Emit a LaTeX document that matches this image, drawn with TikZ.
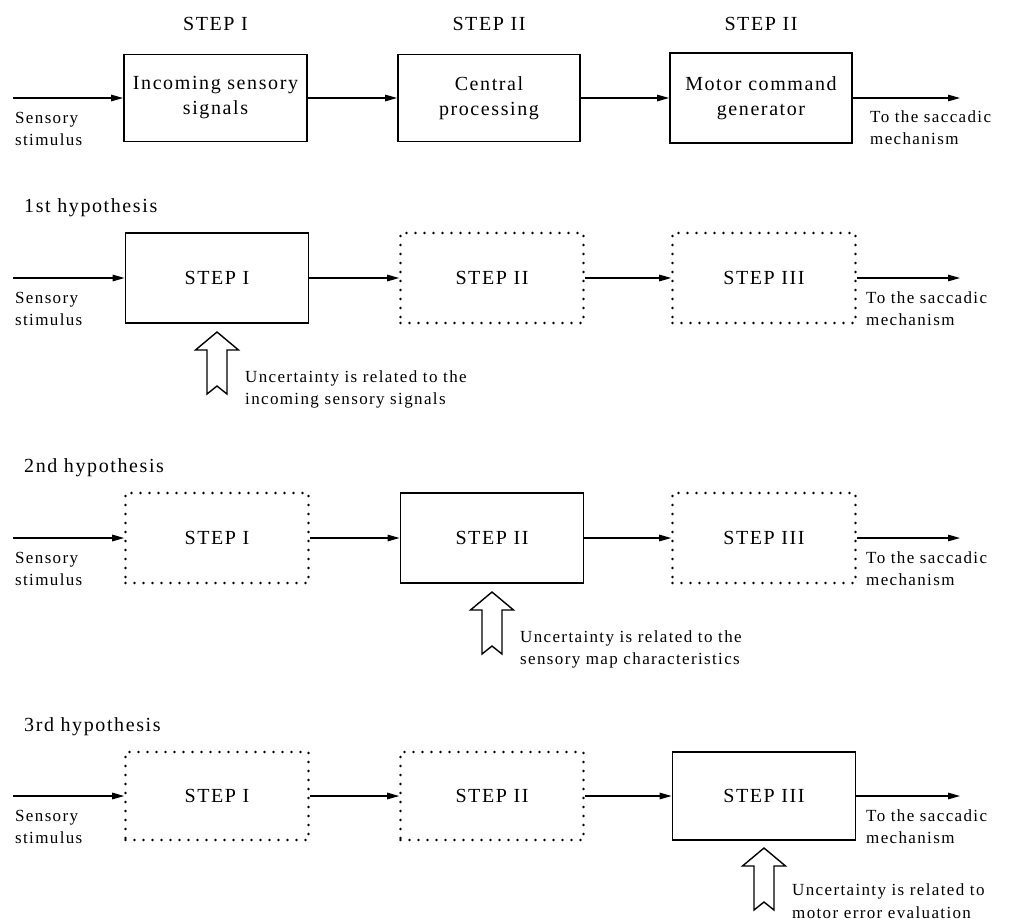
\documentclass[tikz,border=0pt]{standalone}
\usepackage{fontspec}
\setmainfont[LetterSpace=8]{Liberation Serif}
\usetikzlibrary{arrows.meta}
\begin{document}
\begin{tikzpicture}[x=1pt,y=-1pt,
  big/.style={font=\fontsize{20}{25}\selectfont},
  small/.style={font=\fontsize{17}{22.5}\selectfont},
  solidbox/.style={draw,line width=1.8pt,minimum width=183pt,minimum height=90pt,inner sep=0pt,big,align=center},
  dotbox/.style={solidbox,line width=2.6pt,line cap=round,dash pattern=on 0pt off 9pt},
  arr/.style={line width=1.3pt,-{Triangle[length=12pt,width=6.5pt]}},
  lab/.style={small,align=left,anchor=west,inner sep=0pt},
  hyp/.style={big,anchor=west,inner sep=0pt},
  hollow/.pic={\draw[line width=1.4pt,line join=miter] (0,0) -- (21.5,18) -- (10,18) -- (10,62) -- (0,54) -- (-10,62) -- (-10,18) -- (-21.5,18) -- cycle;}
]
\useasboundingbox[fill=white] (0,0) rectangle (1010,922);

% ---------- Row 1
\node[big] (h1) at (215.5,24) {STEP I};
\node[big] (h2) at (489,24) {STEP II};
\node[big] (h3) at (761,24) {STEP II};
\node[solidbox,minimum height=87pt] (a1) at (215.5,98) {Incoming sensory\\signals};
\node[solidbox,minimum height=87pt,minimum width=182pt] (a2) at (489,98) {Central\\processing};
\node[solidbox,minimum height=90pt,minimum width=182pt] (a3) at (761,98) {Motor command\\generator};
\coordinate (ain) at (13,98);
\coordinate (aout) at (960,98);
\draw[arr] (ain) -- (a1);
\draw[arr] (a1) -- (a2);
\draw[arr] (a2) -- (a3);
\draw[arr] (a3) -- (aout);
\node[lab] (asen) at (15,129) {Sensory\\stimulus};
\node[lab] (ato) at (870,127.5) {To the saccadic\\mechanism};

% ---------- Row 2
\node[hyp] (l2) at (24,208) {1st hypothesis};
\node[solidbox] (b1) at (217,278) {STEP I};
\node[dotbox] (b2) at (492,278) {STEP II};
\node[dotbox] (b3) at (764,278) {STEP III};
\coordinate (bin) at (13,278);
\coordinate (bout) at (960,278);
\draw[arr] (bin) -- (b1);
\draw[arr] (b1) -- (b2);
\draw[arr] (b2) -- (b3);
\draw[arr] (b3) -- (bout);
\node[lab] (bsen) at (15,309) {Sensory\\stimulus};
\node[lab] (bto) at (866,308.5) {To the saccadic\\mechanism};
\pic at (217,332) {hollow};
\node[lab] (bu) at (245,389.5) {Uncertainty is related to the\\incoming sensory signals};

% ---------- Row 3
\node[hyp] (l3) at (24,468) {2nd hypothesis};
\node[dotbox] (c1) at (217,538) {STEP I};
\node[solidbox] (c2) at (492,538) {STEP II};
\node[dotbox] (c3) at (764,538) {STEP III};
\coordinate (cin) at (13,538);
\coordinate (cout) at (960,538);
\draw[arr] (cin) -- (c1);
\draw[arr] (c1) -- (c2);
\draw[arr] (c2) -- (c3);
\draw[arr] (c3) -- (cout);
\node[lab] (csen) at (15,569) {Sensory\\stimulus};
\node[lab] (cto) at (866,568.5) {To the saccadic\\mechanism};
\pic at (492,592) {hollow};
\node[lab] (cu) at (520,649.5) {Uncertainty is related to the\\sensory map characteristics};

% ---------- Row 4
\node[hyp] (l4) at (24,727) {3rd hypothesis};
\node[dotbox,minimum height=88pt] (d1) at (217,796) {STEP I};
\node[dotbox,minimum height=88pt] (d2) at (492,796) {STEP II};
\node[solidbox,minimum height=88pt] (d3) at (764,796) {STEP III};
\coordinate (din) at (13,796);
\coordinate (dout) at (960,796);
\draw[arr] (din) -- (d1);
\draw[arr] (d1) -- (d2);
\draw[arr] (d2) -- (d3);
\draw[arr] (d3) -- (dout);
\node[lab] (dsen) at (15,827) {Sensory\\stimulus};
\node[lab] (dto) at (866,826.5) {To the saccadic\\mechanism};
\pic at (764,848) {hollow};
\node[lab] (du) at (792,901) {Uncertainty is related to\\motor error evaluation};
\end{tikzpicture}
\end{document}
